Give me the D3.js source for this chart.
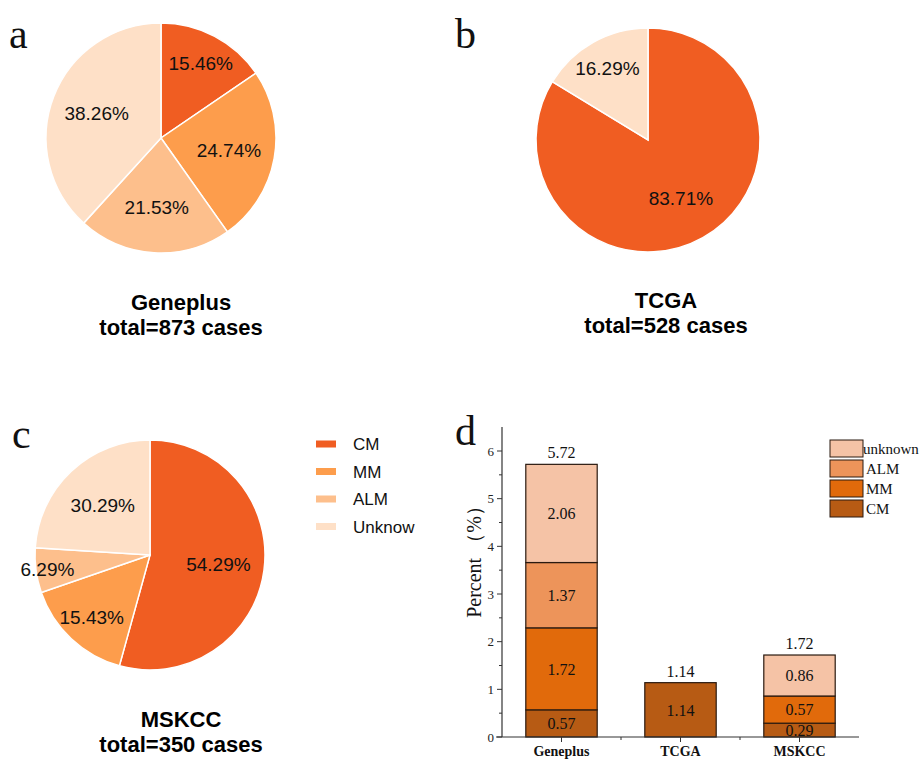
<!DOCTYPE html>
<html>
<head>
<meta charset="utf-8">
<script src="https://cdn.jsdelivr.net/npm/d3@7"></script>
<style>
  body { margin: 0; background: #fff; }
  svg { display: block; }
  .serif { font-family: "Times New Roman", "Liberation Serif", serif; }
  .sans { font-family: Arial, "Liberation Sans", sans-serif; }
</style>
</head>
<body>
<svg id="fig" width="921" height="760"></svg>
<script>
// pie data (panels a-c)
const pieGroups = ["CM", "MM", "ALM", "Unknow"];
const pieColors = ["#f05d22", "#fd9d4c", "#fdbf8c", "#fee0c7"];
const geneplusPct = [15.46, 24.74, 21.53, 38.26];
const tcgaPct = [83.71, 0, 0, 16.29];
const mskccSlice = [54.29, 15.43, 6.29, 23.99];
const mskccLabel = [54.29, 15.43, 6.29, 30.29];

// bar data (panel d)
const cohorts = ["Geneplus", "TCGA", "MSKCC"];
const barSubtypes = ["CM", "MM", "ALM", "unknown"];
const barColors = ["#b75b14", "#e16a0b", "#ed945a", "#f5c3a6"];
const cmPct = [0.57, 1.14, 0.29];
const mmPct = [1.72, 0, 0.57];
const almPct = [1.37, 0, 0];
const unknownPct = [2.06, 0, 0.86];
const totalPct = [5.72, 1.14, 1.72];
const yTicks = [0, 1, 2, 3, 4, 5, 6];

const svg = d3.select("#fig");

function labelRadius(v) {
  if (v < 10) return 0.9;
  if (v < 20) return 0.74;
  return 0.6;
}

function drawPie(cx, cy, r, values, labels, title, total, tx, ty) {
  let g = svg.append("g").attr("transform", `translate(${cx},${cy})`);
  let data = values.map((v, i) => ({group: pieGroups[i], value: v, label: labels[i], i: i}));
  let arcs = d3.pie().sort(null).value(d => d.value)(data).filter(a => a.data.value > 0);
  let arc = d3.arc().innerRadius(0).outerRadius(r);

  g.selectAll("path")
    .data(arcs)
    .enter()
    .append("path")
    .attr("d", arc)
    .attr("fill", d => pieColors[d.data.i])
    .attr("stroke", "#fff")
    .attr("stroke-width", 1.5);

  g.selectAll("text")
    .data(arcs)
    .enter()
    .append("text")
    .attr("class", "sans")
    .attr("transform", d => {
      let k = labelRadius(d.data.value);
      let c = d3.arc().innerRadius(0).outerRadius(r * k * 2).centroid(d);
      return `translate(${c[0]},${c[1]})`;
    })
    .attr("dy", "0.36em")
    .attr("text-anchor", "middle")
    .attr("font-size", 19)
    .attr("fill", "#111")
    .text(d => d.data.label.toFixed(2) + "%");

  let t = svg.append("g").attr("class", "sans").attr("font-weight", "bold")
    .attr("font-size", 22).attr("text-anchor", "middle");
  t.append("text").attr("x", tx).attr("y", ty).text(title);
  t.append("text").attr("x", tx).attr("y", ty + 25).text("total=" + total + " cases");
}

drawPie(161, 138, 115, geneplusPct, geneplusPct, "Geneplus", 873, 181, 310);
drawPie(648, 140, 112, tcgaPct, tcgaPct, "TCGA", 528, 666, 308);
drawPie(150, 555, 115, mskccSlice, mskccLabel, "MSKCC", 350, 181, 727);

// panel letters
[["a", 9, 48], ["b", 455, 48], ["c", 12, 448], ["d", 455, 445]].forEach(p => {
  svg.append("text").attr("class", "serif").attr("x", p[1]).attr("y", p[2])
    .attr("font-size", 42).attr("fill", "#111").text(p[0]);
});

// pie legend
let pl = svg.append("g").attr("class", "sans");
pieGroups.forEach((gname, i) => {
  let y = 444 + i * 27.5;
  pl.append("rect").attr("x", 316).attr("y", y - 3.5).attr("width", 20).attr("height", 7)
    .attr("fill", pieColors[i]);
  pl.append("text").attr("x", 353).attr("y", y).attr("dy", "0.36em")
    .attr("font-size", 17).attr("fill", "#111").text(gname);
});

// stacked bar chart
const bx0 = 502, bx1 = 859, by0 = 737;
const x = d3.scaleBand().domain(cohorts).range([bx0, bx1]).paddingInner(0.4).paddingOuter(0.2);
const xb = d3.scaleBand().domain(cohorts).range([bx0, bx1]);
const y = d3.scaleLinear().domain([0, 6]).range([by0, 451]);

const rows = cohorts.map((c, i) => ({cohort: c, CM: cmPct[i], MM: mmPct[i], ALM: almPct[i], unknown: unknownPct[i], total: totalPct[i]}));
const series = d3.stack().keys(barSubtypes)(rows);

let bars = svg.append("g");
series.forEach((s, si) => {
  s.forEach(seg => {
    let v = seg[1] - seg[0];
    if (v <= 0) return;
    bars.append("rect")
      .attr("x", x(seg.data.cohort))
      .attr("y", y(seg[1]))
      .attr("width", x.bandwidth())
      .attr("height", y(seg[0]) - y(seg[1]))
      .attr("fill", barColors[si])
      .attr("stroke", "#2a1a10")
      .attr("stroke-width", 1.2);
    bars.append("text")
      .attr("class", "serif")
      .attr("x", x(seg.data.cohort) + x.bandwidth() / 2)
      .attr("y", (y(seg[0]) + y(seg[1])) / 2)
      .attr("dy", "0.36em")
      .attr("text-anchor", "middle")
      .attr("font-size", 16)
      .attr("fill", "#111")
      .text(v.toFixed(2));
  });
});

bars.selectAll(".tot")
  .data(rows)
  .enter()
  .append("text")
  .attr("class", "serif")
  .attr("x", d => x(d.cohort) + x.bandwidth() / 2)
  .attr("y", d => y(d.total) - 6)
  .attr("text-anchor", "middle")
  .attr("font-size", 16)
  .attr("fill", "#111")
  .text(d => d.total.toFixed(2));

// y axis
let ya = svg.append("g").attr("class", "serif");
ya.append("line").attr("x1", bx0).attr("x2", bx0).attr("y1", 427).attr("y2", by0)
  .attr("stroke", "#333").attr("stroke-width", 1.2);
d3.range(0, 6.5, 0.5).forEach(v => {
  let major = Number.isInteger(v);
  ya.append("line").attr("x1", bx0 - (major ? 5 : 3)).attr("x2", bx0)
    .attr("y1", y(v)).attr("y2", y(v)).attr("stroke", "#333").attr("stroke-width", 1);
});
ya.selectAll(".yt")
  .data(yTicks)
  .enter()
  .append("text")
  .attr("x", bx0 - 8)
  .attr("y", d => y(d))
  .attr("dy", "0.35em")
  .attr("text-anchor", "end")
  .attr("font-size", 13)
  .attr("fill", "#222")
  .text(d => d);

ya.append("text")
  .attr("transform", "translate(481,557) rotate(-90)")
  .attr("text-anchor", "middle")
  .attr("font-size", 20)
  .attr("fill", "#111")
  .text("Percent （%）");

// x axis
let xa = svg.append("g").attr("class", "serif");
xa.append("line").attr("x1", bx0 - 6).attr("x2", bx1).attr("y1", by0).attr("y2", by0)
  .attr("stroke", "#333").attr("stroke-width", 1.2);
cohorts.forEach((c, i) => {
  let cx = xb(c) + xb.bandwidth() / 2;
  xa.append("line").attr("x1", cx).attr("x2", cx).attr("y1", by0).attr("y2", by0 + 5)
    .attr("stroke", "#333");
  if (i > 0) {
    xa.append("line").attr("x1", xb(c)).attr("x2", xb(c)).attr("y1", by0).attr("y2", by0 + 3)
      .attr("stroke", "#333");
  }
  xa.append("text").attr("x", cx).attr("y", 756).attr("text-anchor", "middle")
    .attr("font-size", 14).attr("font-weight", "bold").attr("fill", "#111").text(c);
});

// bar legend (top to bottom: unknown, ALM, MM, CM)
let bl = svg.append("g").attr("class", "serif");
barSubtypes.slice().reverse().forEach((s, i) => {
  let ci = barSubtypes.indexOf(s);
  let yy = 440 + i * 20;
  bl.append("rect").attr("x", 830).attr("y", yy).attr("width", 33).attr("height", 17)
    .attr("fill", barColors[ci]).attr("stroke", "#2a1a10").attr("stroke-width", 1);
  bl.append("text").attr("x", s === "unknown" ? 863 : 866).attr("y", yy + 8.5).attr("dy", "0.36em")
    .attr("font-size", 15).attr("fill", "#111").text(s);
});
</script>
</body>
</html>
